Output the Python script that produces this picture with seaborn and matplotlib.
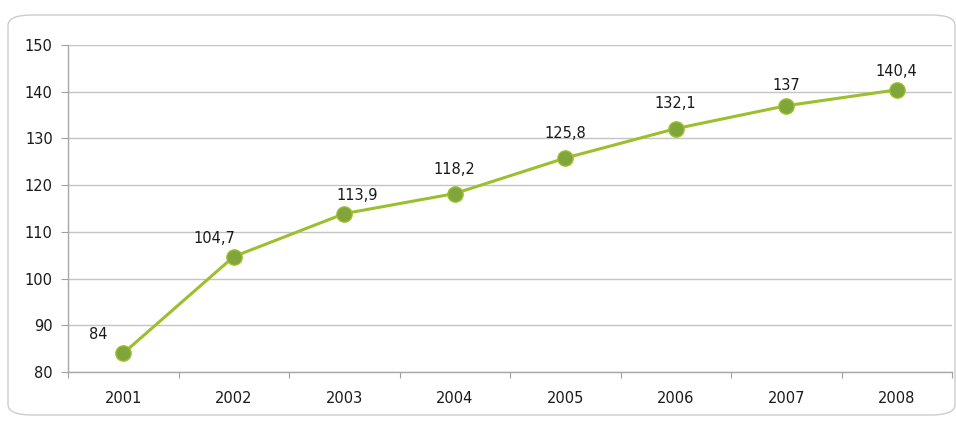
import matplotlib
matplotlib.use("Agg")
import matplotlib.pyplot as plt
import seaborn as sns
import numpy as np
from matplotlib.patches import FancyBboxPatch

years = ["2001", "2002", "2003", "2004", "2005", "2006", "2007", "2008"]
values = [84, 104.7, 113.9, 118.2, 125.8, 132.1, 137, 140.4]
labels = ["84", "104,7", "113,9", "118,2", "125,8", "132,1", "137", "140,4"]
yticks = [80, 90, 100, 110, 120, 130, 140, 150]

sns.set_theme(style="white")
plt.rcParams['font.family'] = ['DejaVu Sans']

fig = plt.figure(figsize=(9.56, 4.21), dpi=100)
frame = FancyBboxPatch((8/956, 6/421), 947/956, 400/421,
                       boxstyle="round,pad=0,rounding_size=0.025",
                       transform=fig.transFigure, facecolor="white",
                       edgecolor="#cccccc", linewidth=1.0, zorder=-5)
fig.patches.append(frame)

ax = fig.add_axes([68/956, 49/421, 884/956, 327/421])
ax.set_zorder(2)
ax.set_facecolor("none")
idx = np.arange(len(years))
sns.lineplot(x=idx, y=values, ax=ax, color="#9cbf2e", linewidth=2.2,
             marker="o", markersize=11, markerfacecolor="#80a53a",
             markeredgecolor="#9cbf2e", markeredgewidth=1.0, zorder=3)

offsets = [(-18, 8), (-14, 8), (9, 8), (0, 12), (0, 12), (0, 13), (0, 9), (0, 8)]
for i, (v, lab) in enumerate(zip(values, labels)):
    ax.annotate(lab, (i, v), xytext=offsets[i], textcoords="offset points",
                ha="center", va="bottom", fontsize=10.5, color="#1a1a1a")

ax.set_xlim(-0.5, len(years) - 0.5)
ax.set_ylim(80, 150)
ax.set_yticks(yticks)
ax.set_yticklabels([str(t) for t in yticks])
ax.set_xticks(idx)
ax.set_xticklabels(years)
ax.set_xticks(np.arange(-0.5, len(years)), minor=True)
ax.tick_params(axis="x", which="major", length=0, pad=14, labelsize=10.5, labelcolor="#1a1a1a")
ax.tick_params(axis="x", which="minor", length=4, color="#a0a0a0", width=0.8, direction="out", bottom=True)
ax.tick_params(axis="y", length=5, color="#a0a0a0", width=0.8, direction="out", left=True, pad=6,
               labelsize=10.5, labelcolor="#1a1a1a")
ax.yaxis.grid(True, color="#c4c4c4", linewidth=1.0)
ax.set_axisbelow(True)
for s in ["top", "right"]:
    ax.spines[s].set_visible(False)
for s in ["left", "bottom"]:
    ax.spines[s].set_color("#a8a8a8")
    ax.spines[s].set_linewidth(1.0)
ax.set_xlabel("")
ax.set_ylabel("")

fig.savefig("out.png", dpi=100)
